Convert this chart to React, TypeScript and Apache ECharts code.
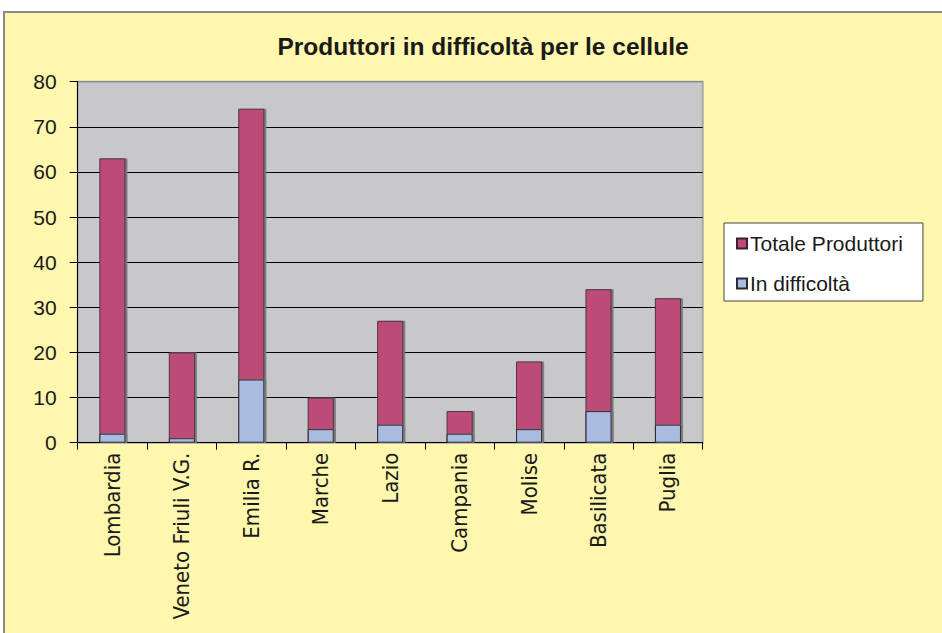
import React, { useEffect, useRef } from "react";
import * as echarts from "echarts";

const categories = [
  "Lombardia",
  "Veneto Friuli V.G.",
  "Emilia R.",
  "Marche",
  "Lazio",
  "Campania",
  "Molise",
  "Basilicata",
  "Puglia",
];
const totaleProduttori = [63, 20, 74, 10, 27, 7, 18, 34, 32];
const inDifficolta = [2, 1, 14, 3, 4, 2, 3, 7, 4];
const yTicks = { min: 0, max: 80, interval: 10 };

export default function App() {
  const ref = useRef<HTMLDivElement>(null);

  useEffect(() => {
    if (!ref.current) return;
    const chart = echarts.init(ref.current, null, { renderer: "svg" });
    const splitColors = ["#000", "#000", "#000", "#000", "#000", "#000", "#000", "#000", "#8a8a8a"];
    chart.setOption({
      animation: false,
      backgroundColor: "transparent",
      title: {
        text: "Produttori in difficoltà per le cellule",
        left: 478,
        textAlign: "center",
        top: 29,
        textStyle: {
          fontFamily: "Liberation Sans, Arial, sans-serif",
          fontSize: 24.5,
          fontWeight: "bold",
          color: "#1a1a1a",
        },
      },
      legend: {
        orient: "vertical",
        left: 724,
        top: 223,
        data: ["Totale Produttori", "In difficoltà"],
        backgroundColor: "#ffffff",
        borderColor: "#444",
        borderWidth: 1,
        padding: [10, 20, 7, 12],
        itemGap: 19,
        itemWidth: 10,
        itemHeight: 10,
        icon: "rect",
        textStyle: {
          fontFamily: "Liberation Sans, Arial, sans-serif",
          fontSize: 21,
          color: "#1a1a1a",
          padding: [0, 0, 0, -2],
        },
      },
      grid: {
        left: 77.7,
        right: 239.3,
        top: 81.7,
        bottom: 190.3,
        containLabel: false,
        outerBoundsMode: "none",
        show: true,
        backgroundColor: "#c8c8ca",
        borderColor: "#a8a8a8",
        borderWidth: 2,
      },
      xAxis: {
        type: "category",
        data: categories,
        axisLine: { show: true, lineStyle: { color: "#000", width: 1 } },
        axisTick: { show: true, length: 7, lineStyle: { color: "#000" } },
        axisLabel: {
          interval: 0,
          rotate: 90,
          margin: 10,
          fontFamily: "DejaVu Sans Condensed, Liberation Sans Narrow, sans-serif",
          fontSize: 22,
          color: "#1a1a1a",
        },
        splitLine: { show: false },
      },
      yAxis: {
        type: "value",
        min: yTicks.min,
        max: yTicks.max,
        interval: yTicks.interval,
        axisLine: { show: true, lineStyle: { color: "#000", width: 1 } },
        axisTick: { show: true, length: 8, lineStyle: { color: "#000" } },
        axisLabel: {
          margin: 21,
          fontFamily: "Liberation Sans, Arial, sans-serif",
          fontSize: 21,
          color: "#1a1a1a",
        },
        splitLine: { show: true, lineStyle: { color: splitColors, width: 1 } },
      },
      series: [
        {
          name: "Totale Produttori",
          type: "bar",
          data: totaleProduttori,
          barWidth: 26,
          barGap: "-100%",
          itemStyle: {
            color: "#bd4b77",
            borderColor: "#3a2030",
            borderWidth: 0.8,
            shadowColor: "#7a7a7a",
            shadowOffsetX: 2,
            shadowOffsetY: 0,
            shadowBlur: 0,
          },
        },
        {
          name: "In difficoltà",
          type: "bar",
          data: inDifficolta,
          barWidth: 26,
          barGap: "-100%",
          itemStyle: {
            color: "#aabbe0",
            borderColor: "#2a2a3a",
            borderWidth: 1,
            shadowColor: "#7a7a7a",
            shadowOffsetX: 2,
            shadowOffsetY: 0,
            shadowBlur: 0,
          },
        },
      ],
    });
    return () => chart.dispose();
  }, []);

  return (
    <div style={{ position: "fixed", left: 0, top: 0, width: 942, height: 633, background: "#ffffff", overflow: "hidden" }}>
      <div
        style={{
          position: "absolute",
          left: 3,
          top: 11,
          width: 960,
          height: 640,
          background: "#fff7ae",
          borderTop: "2px solid #8a8a8a",
          borderLeft: "2px solid #8a8a8a",
        }}
      />
      <div ref={ref} style={{ position: "absolute", left: 0, top: 0, width: 942, height: 633 }} />
    </div>
  );
}
